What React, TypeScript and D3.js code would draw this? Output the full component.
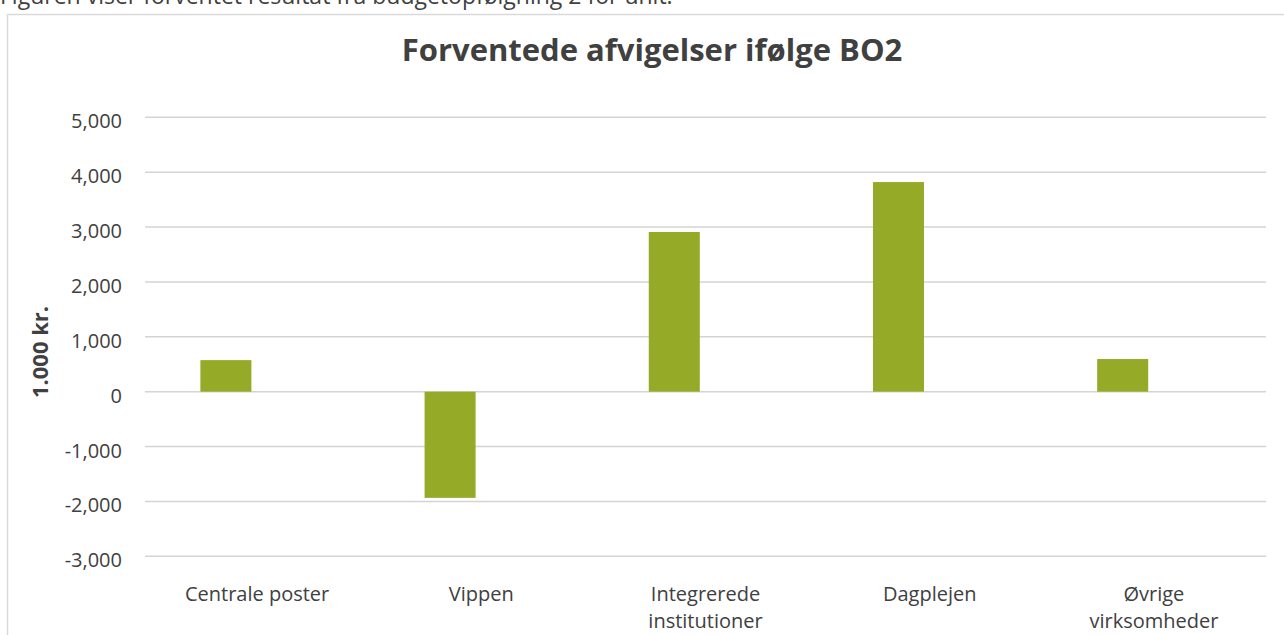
import React from "react";
import * as d3 from "d3";

const categories = ["Centrale poster", "Vippen", "Integrerede institutioner", "Dagplejen", "Øvrige virksomheder"];
const labelLines = [["Centrale poster"], ["Vippen"], ["Integrerede", "institutioner"], ["Dagplejen"], ["Øvrige", "virksomheder"]];
const series = ["BO2", "tom"];
const bo2Values = [575, -1935, 2910, 3820, 595];
const yTicks = [-3000, -2000, -1000, 0, 1000, 2000, 3000, 4000, 5000];

const W = 1284;
const H = 635;
const FONT = "'Open Sans', sans-serif";

// Excel-style numbers: comma thousands, plain hyphen for minus
const locale = d3.formatLocale({ decimal: ".", thousands: ",", grouping: [3], currency: ["", ""], minus: "-" });
const fmt = locale.format(",");

export default function App() {
  const x0 = d3.scaleBand<string>().domain(categories).range([145, 1266]).paddingInner(0.494).paddingOuter(0.247);
  const x1 = d3.scaleBand<string>().domain(series).range([0, x0.bandwidth()]).paddingInner(0.183);
  const y = d3.scaleLinear().domain([-3000, 5000]).range([556.3, 117.3]);

  return (
    <svg width={W} height={H} style={{ position: "absolute", left: 0, top: 0, background: "#fff" }} fontFamily={FONT}>
      {/* caption above the chart, cut off at the top as in the source */}
      <text x={0} y={4} fontSize={23} fill="#404040">
        Figuren viser forventet resultat fra budgetopfølgning 2 for unit.
      </text>
      <rect x={7.5} y={14.5} width={1320} height={700} fill="#fff" stroke="#d9d9d9" strokeWidth={1.5} />

      <text x={652} y={61} textAnchor="middle" fontSize={31} fontWeight="bold" fill="#404040">
        Forventede afvigelser ifølge BO2
      </text>

      {/* gridlines */}
      {yTicks.map((t) => (
        <line key={t} x1={145} x2={1266} y1={y(t)} y2={y(t)} stroke="#d4d4d4" strokeWidth={1.5} />
      ))}
      {yTicks.map((t) => (
        <text key={"l" + t} x={122} y={y(t) + 11} textAnchor="end" fontSize={20} fill="#404040">
          {fmt(t)}
        </text>
      ))}

      <text transform="translate(48,352) rotate(-90)" textAnchor="middle" fontSize={22} fontWeight="bold" fill="#404040">
        1.000 kr.
      </text>

      {/* bars */}
      {categories.map((c, i) => {
        const v = bo2Values[i];
        return (
          <rect
            key={c}
            x={(x0(c) ?? 0) + (x1("BO2") ?? 0)}
            width={x1.bandwidth()}
            y={Math.min(y(v), y(0))}
            height={Math.abs(y(v) - y(0))}
            fill="#95ab28"
          />
        );
      })}

      {/* category labels */}
      {categories.map((c, i) => (
        <text key={"c" + c} x={(x0(c) ?? 0) + x0.bandwidth() / 2} y={601} textAnchor="middle" fontSize={20} fill="#404040">
          {labelLines[i].map((ln, j) => (
            <tspan key={j} x={(x0(c) ?? 0) + x0.bandwidth() / 2} dy={j === 0 ? 0 : 27}>
              {ln}
            </tspan>
          ))}
        </text>
      ))}
    </svg>
  );
}
